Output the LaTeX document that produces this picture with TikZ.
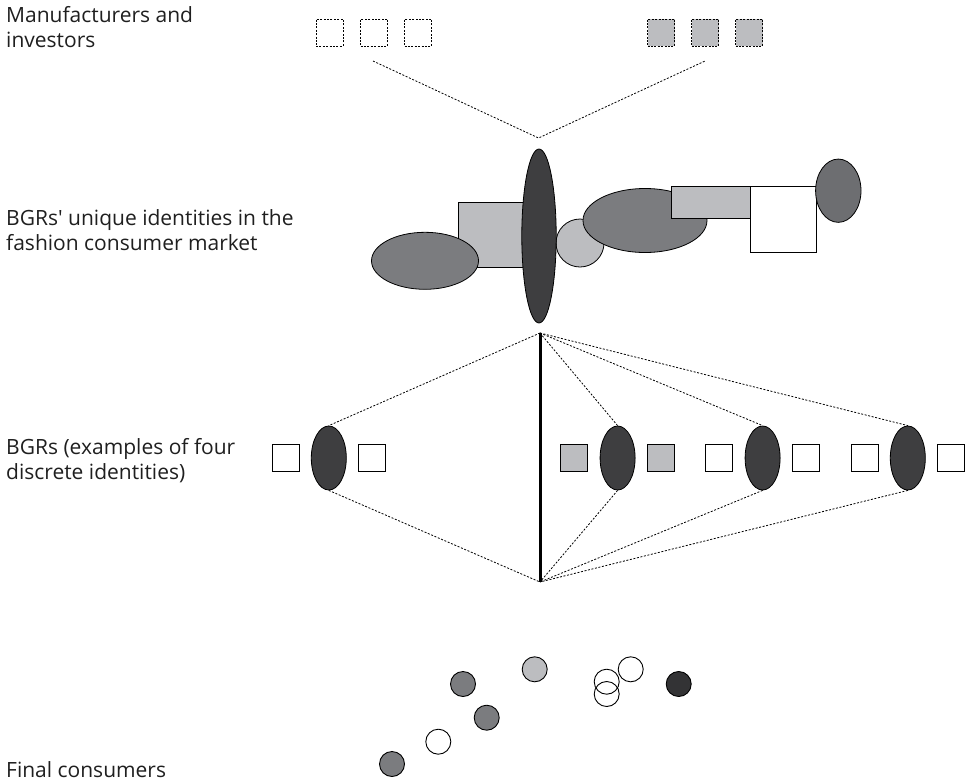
\documentclass[tikz,border=0pt]{standalone}
\usepackage{fontspec}
\setmainfont{Open Sans}[Ligatures=TeXOff]
\usetikzlibrary{shapes.geometric}
\definecolor{darkfill}{HTML}{3E3E40}
\definecolor{midfill}{HTML}{7B7C7F}
\definecolor{rightfill}{HTML}{6D6E71}
\definecolor{lightfill}{HTML}{BCBDC0}
\definecolor{inkfill}{HTML}{333335}
\tikzset{dotline/.style={line width=0.8pt, dash pattern=on 2pt off 1.6pt}}
\tikzset{box/.style={draw, line width=0.8pt, minimum size=27pt, inner sep=0pt}}
\tikzset{dotbox/.style={box, dash pattern=on 2pt off 1.4pt}}
\tikzset{rect/.style={draw, line width=0.8pt, inner sep=0pt}}
\tikzset{oval/.style={ellipse, draw, line width=0.8pt, inner sep=0pt}}
\tikzset{dot/.style={circle, draw, line width=0.9pt, minimum size=25pt, inner sep=0pt}}
\tikzset{label/.style={anchor=base west, align=left, inner sep=0pt, font=\fontsize{21}{25}\selectfont, text=black!88}}

\begin{document}
\begin{tikzpicture}[x=1pt, y=-1pt]
\useasboundingbox (0,0) rectangle (974,782);

% row labels
\node[label] (t1) at (6,47) {Manufacturers and\\investors};
\node[label] (t2) at (6,250) {BGRs' unique identities in the\\fashion consumer market};
\node[label] (t3) at (6,479) {BGRs (examples of four\\discrete identities)};
\node[label] (t4) at (6,777) {Final consumers};

% manufacturers and investors
\node[dotbox] (m1) at (329.5,32.5) {};
\node[dotbox] (m2) at (374,32.5) {};
\node[dotbox] (m3) at (418,32.5) {};
\node[dotbox, fill=lightfill] (i1) at (661,32.5) {};
\node[dotbox, fill=lightfill] (i2) at (705,32.5) {};
\node[dotbox, fill=lightfill] (i3) at (749,32.5) {};

\coordinate (ml) at (373,61);
\coordinate (mr) at (705,61);
\coordinate (apex) at (538.5,138);
\draw[dotline] (ml) -- (apex) -- (mr);

% unique identities
\node[rect, fill=lightfill, minimum width=65.5pt, minimum height=65.4pt] (r1) at (490.8,235) {};
\node[oval, fill=midfill, minimum width=107pt, minimum height=57pt] (e1) at (425,260.8) {};
\node[circle, draw, line width=0.8pt, fill=lightfill, minimum size=48pt, inner sep=0pt] (c0) at (580,243) {};
\node[oval, fill=midfill, minimum width=124pt, minimum height=64pt] (e2) at (645,220.5) {};
\node[rect, fill=lightfill, minimum width=88.5pt, minimum height=31.6pt] (r2) at (715.2,202.5) {};
\node[rect, fill=white, minimum width=66pt, minimum height=65.6pt] (r3) at (783.2,219.5) {};
\node[oval, fill=rightfill, minimum width=45.4pt, minimum height=63.3pt] (e3) at (838.3,190.7) {};
\node[oval, fill=darkfill, minimum width=34.4pt, minimum height=174pt] (core) at (539,236) {};

% BGRs
\coordinate (bt) at (540,333);
\coordinate (bb) at (540,582);
\draw[line width=3pt] (bt) -- (bb);

\foreach \x/\f [count=\i] in {328.8/white, 617.6/lightfill, 762.6/white, 907.8/white} {
  \node[box, fill=\f] (l\i) at (\x-43.4,458) {};
  \node[box, fill=\f] (r\i) at (\x+43.4,458) {};
  \node[oval, fill=darkfill, minimum width=35pt, minimum height=64pt] (g\i) at (\x,458) {};
  \draw[dotline] (bt) -- (g\i.north);
  \draw[dotline] (g\i.south) -- (bb);
}

% final consumers
\node[dot, fill=midfill] (f1) at (463,684) {};
\node[dot, fill=lightfill] (f2) at (534.7,669.3) {};
\node[dot, fill=midfill] (f3) at (486.7,717.7) {};
\node[dot, fill=white] (f4) at (438.3,741.7) {};
\node[dot, fill=midfill] (f5) at (392,764) {};
\node[dot] (f6) at (606.7,681.7) {};
\node[dot] (f7) at (606.7,694) {};
\node[dot, fill=white] (f8) at (630.7,669.3) {};
\node[dot, fill=inkfill] (f9) at (678.7,684) {};

\end{tikzpicture}
\end{document}
